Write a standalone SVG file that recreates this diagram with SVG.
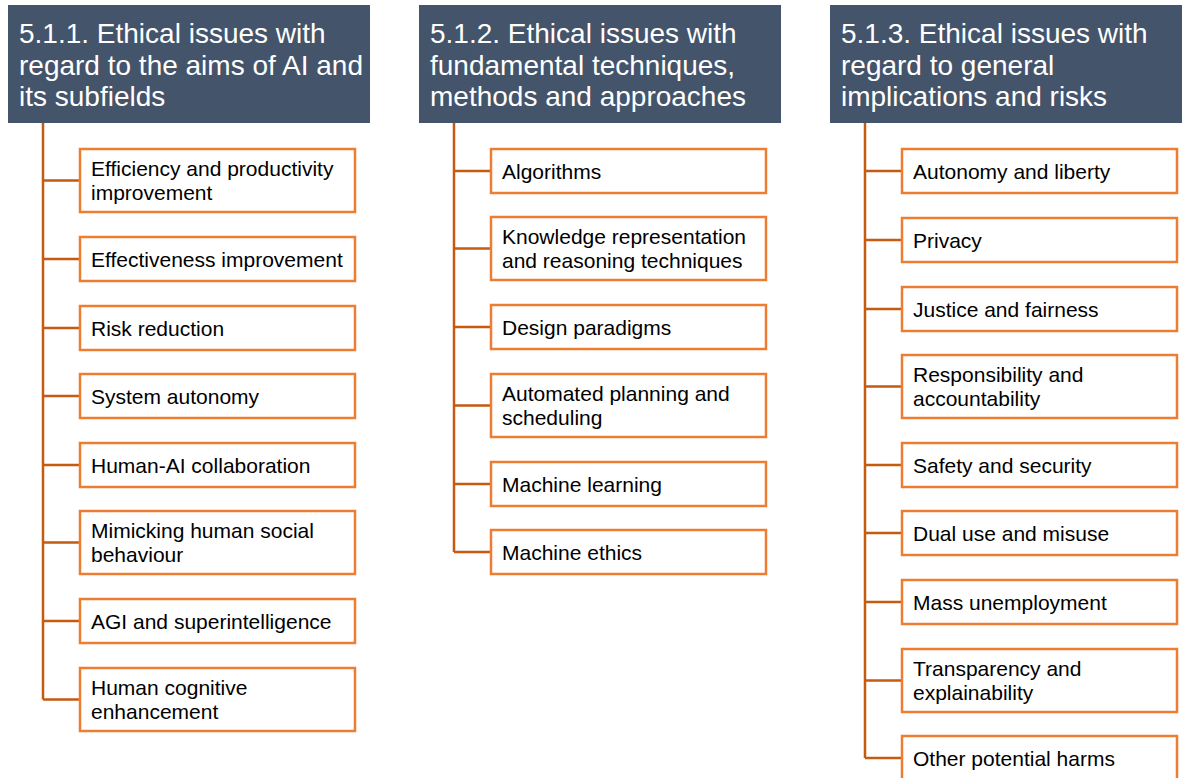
<svg xmlns="http://www.w3.org/2000/svg" width="1182" height="778" viewBox="0 0 1182 778">
<style>
.hdr{fill:#44546A}
.ht{font-family:"Liberation Sans",Arial,sans-serif;font-size:28px;fill:#FFFFFF}
.box{fill:#FFFFFF;stroke:#ED7D31;stroke-width:2.5}
.bt{font-family:"Liberation Sans",Arial,sans-serif;font-size:21px;fill:#000000}
.ln{stroke:#C55A11;stroke-width:2.5;fill:none}
</style>
<rect width="1182" height="778" fill="#FFFFFF"/>
<g id="connectors">
<path class="ln" d="M43 123V699.5M43 180.5H80M43 259H80M43 328H80M43 396H80M43 465H80M43 542.5H80M43 621H80M43 699.5H80"/>
<path class="ln" d="M454 123V552M454 171H491M454 248.5H491M454 327H491M454 405.5H491M454 484H491M454 552H491"/>
<path class="ln" d="M865 123V758M865 171H902M865 240H902M865 309H902M865 386.5H902M865 465H902M865 533H902M865 602H902M865 680.5H902M865 758H902"/>
</g>
<g id="h1"><rect class="hdr" x="8" y="5" width="362" height="118"/><text class="ht"><tspan x="19" y="43">5.1.1. Ethical issues with</tspan><tspan x="19" y="74.5">regard to the aims of AI and</tspan><tspan x="19" y="106">its subfields</tspan></text></g>
<g id="h2"><rect class="hdr" x="419" y="5" width="362" height="118"/><text class="ht"><tspan x="430" y="43">5.1.2. Ethical issues with</tspan><tspan x="430" y="74.5">fundamental techniques,</tspan><tspan x="430" y="106">methods and approaches</tspan></text></g>
<g id="h3"><rect class="hdr" x="830" y="5" width="362" height="118"/><text class="ht"><tspan x="841" y="43">5.1.3. Ethical issues with</tspan><tspan x="841" y="74.5">regard to general</tspan><tspan x="841" y="106">implications and risks</tspan></text></g>

<g id="a1"><rect class="box" x="80" y="149" width="275" height="63"/><text class="bt"><tspan x="91" y="175.5">Efficiency and productivity</tspan><tspan x="91" y="199.5">improvement</tspan></text></g>
<g id="a2"><rect class="box" x="80" y="237" width="275" height="44"/><text class="bt" x="91" y="267">Effectiveness improvement</text></g>
<g id="a3"><rect class="box" x="80" y="306" width="275" height="44"/><text class="bt" x="91" y="336">Risk reduction</text></g>
<g id="a4"><rect class="box" x="80" y="374" width="275" height="44"/><text class="bt" x="91" y="404">System autonomy</text></g>
<g id="a5"><rect class="box" x="80" y="443" width="275" height="44"/><text class="bt" x="91" y="473">Human-AI collaboration</text></g>
<g id="a6"><rect class="box" x="80" y="511" width="275" height="63"/><text class="bt"><tspan x="91" y="537.5">Mimicking human social</tspan><tspan x="91" y="561.5">behaviour</tspan></text></g>
<g id="a7"><rect class="box" x="80" y="599" width="275" height="44"/><text class="bt" x="91" y="629">AGI and superintelligence</text></g>
<g id="a8"><rect class="box" x="80" y="668" width="275" height="63"/><text class="bt"><tspan x="91" y="694.5">Human cognitive</tspan><tspan x="91" y="718.5">enhancement</tspan></text></g>

<g id="b1"><rect class="box" x="491" y="149" width="275" height="44"/><text class="bt" x="502" y="179">Algorithms</text></g>
<g id="b2"><rect class="box" x="491" y="217" width="275" height="63"/><text class="bt"><tspan x="502" y="243.5">Knowledge representation</tspan><tspan x="502" y="267.5">and reasoning techniques</tspan></text></g>
<g id="b3"><rect class="box" x="491" y="305" width="275" height="44"/><text class="bt" x="502" y="335">Design paradigms</text></g>
<g id="b4"><rect class="box" x="491" y="374" width="275" height="63"/><text class="bt"><tspan x="502" y="400.5">Automated planning and</tspan><tspan x="502" y="424.5">scheduling</tspan></text></g>
<g id="b5"><rect class="box" x="491" y="462" width="275" height="44"/><text class="bt" x="502" y="492">Machine learning</text></g>
<g id="b6"><rect class="box" x="491" y="530" width="275" height="44"/><text class="bt" x="502" y="560">Machine ethics</text></g>

<g id="c1"><rect class="box" x="902" y="149" width="275" height="44"/><text class="bt" x="913" y="179">Autonomy and liberty</text></g>
<g id="c2"><rect class="box" x="902" y="218" width="275" height="44"/><text class="bt" x="913" y="248">Privacy</text></g>
<g id="c3"><rect class="box" x="902" y="287" width="275" height="44"/><text class="bt" x="913" y="317">Justice and fairness</text></g>
<g id="c4"><rect class="box" x="902" y="355" width="275" height="63"/><text class="bt"><tspan x="913" y="381.5">Responsibility and</tspan><tspan x="913" y="405.5">accountability</tspan></text></g>
<g id="c5"><rect class="box" x="902" y="443" width="275" height="44"/><text class="bt" x="913" y="473">Safety and security</text></g>
<g id="c6"><rect class="box" x="902" y="511" width="275" height="44"/><text class="bt" x="913" y="541">Dual use and misuse</text></g>
<g id="c7"><rect class="box" x="902" y="580" width="275" height="44"/><text class="bt" x="913" y="610">Mass unemployment</text></g>
<g id="c8"><rect class="box" x="902" y="649" width="275" height="63"/><text class="bt"><tspan x="913" y="675.5">Transparency and</tspan><tspan x="913" y="699.5">explainability</tspan></text></g>
<g id="c9"><rect class="box" x="902" y="736" width="275" height="44"/><text class="bt" x="913" y="766">Other potential harms</text></g>
</svg>
